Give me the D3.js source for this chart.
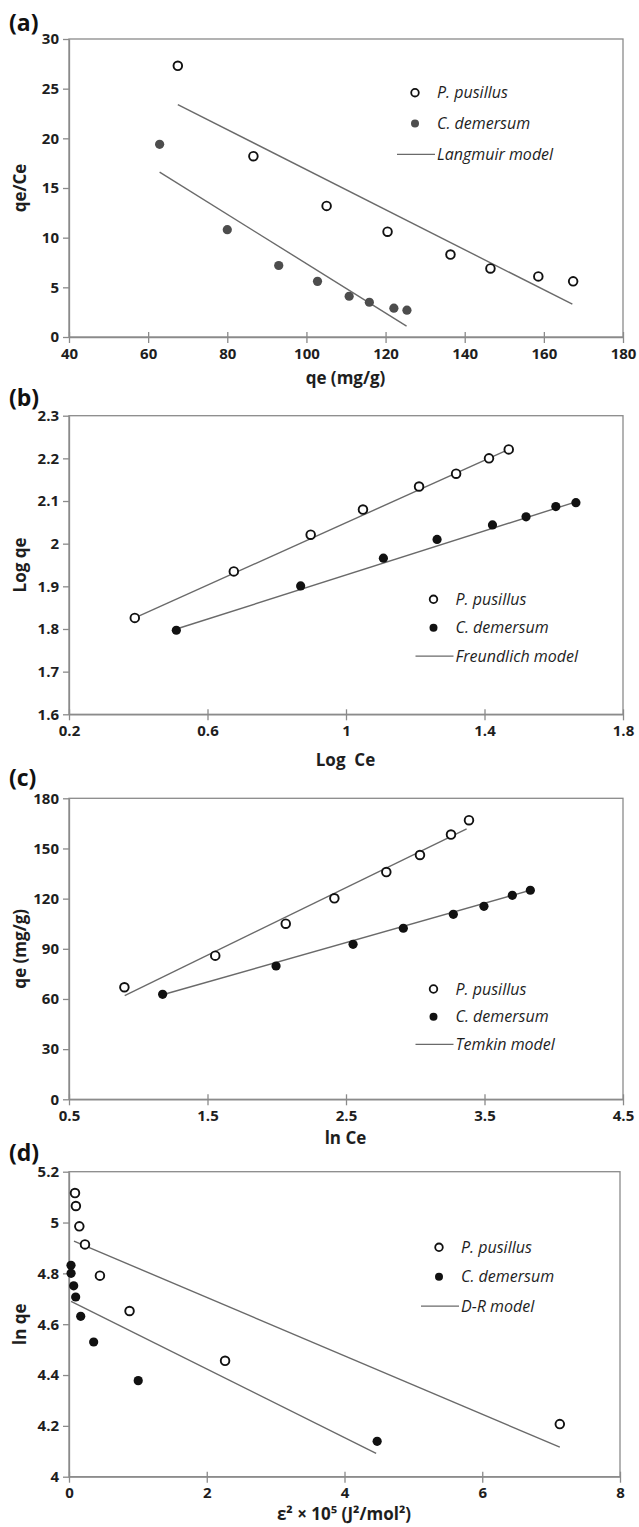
<!DOCTYPE html>
<html>
<head>
<meta charset="utf-8">
<script src="https://cdn.jsdelivr.net/npm/d3@7"></script>
<style>
  body { margin: 0; background: #fff; }
  svg text { font-family: "Open Sans", Lato, sans-serif; }
</style>
</head>
<body>
<div id="chart"></div>
<script>
// ---- data ----
const seriesNames = ["P. pusillus", "C. demersum"];

// (a) Langmuir
const aPusX = [67.5, 86.6, 105.1, 120.5, 136.4, 146.5, 158.6, 167.4];
const aPusY = [27.3, 18.2, 13.2, 10.6, 8.3, 6.9, 6.1, 5.6];
const aDemX = [62.9, 80.0, 93.0, 102.8, 110.8, 115.9, 122.1, 125.4];
const aDemY = [19.4, 10.8, 7.2, 5.6, 4.1, 3.5, 2.9, 2.7];
const aPusFit = [[67.5, 23.4], [167.2, 3.3]];
const aDemFit = [[62.9, 16.6], [125.3, 1.1]];
const aXTicks = [40, 60, 80, 100, 120, 140, 160, 180];
const aYTicks = [0, 5, 10, 15, 20, 25, 30];

// (b) Freundlich
const bPusX = [0.39, 0.676, 0.898, 1.049, 1.211, 1.318, 1.413, 1.470];
const bPusY = [1.826, 1.935, 2.021, 2.080, 2.134, 2.164, 2.200, 2.221];
const bDemX = [0.510, 0.869, 1.108, 1.263, 1.423, 1.520, 1.606, 1.664];
const bDemY = [1.797, 1.901, 1.966, 2.010, 2.044, 2.063, 2.087, 2.096];
const bPusFit = [[0.39, 1.826], [1.47, 2.221]];
const bDemFit = [[0.51, 1.800], [1.664, 2.098]];
const bXTicks = [0.2, 0.6, 1, 1.4, 1.8];
const bYTicks = [1.6, 1.7, 1.8, 1.9, 2, 2.1, 2.2, 2.3];

// (c) Temkin
const cPusX = [0.90, 1.556, 2.065, 2.416, 2.791, 3.034, 3.258, 3.388];
const cPusY = [67.0, 85.9, 105.0, 120.2, 135.9, 146.1, 158.3, 166.9];
const cDemX = [1.176, 1.995, 2.551, 2.914, 3.275, 3.496, 3.701, 3.831];
const cDemY = [62.8, 79.7, 92.7, 102.3, 110.6, 115.4, 122.0, 125.0];
const cPusFit = [[0.902, 62.0], [3.371, 161.7]];
const cDemFit = [[1.176, 62.5], [3.831, 125.0]];
const cXTicks = [0.5, 1.5, 2.5, 3.5, 4.5];
const cYTicks = [0, 30, 60, 90, 120, 150, 180];

// (d) D-R
const dPusX = [0.087, 0.10, 0.15, 0.232, 0.449, 0.879, 2.266, 7.126];
const dPusY = [5.116, 5.065, 4.985, 4.914, 4.791, 4.652, 4.456, 4.207];
const dDemX = [0.029, 0.03, 0.068, 0.097, 0.17, 0.358, 1.005, 4.474];
const dDemY = [4.832, 4.800, 4.751, 4.707, 4.631, 4.530, 4.378, 4.139];
const dPusFit = [[0.072, 4.927], [7.126, 4.116]];
const dDemFit = [[0.03, 4.690], [4.459, 4.092]];
const dXTicks = [0, 2, 4, 6, 8];
const dYTicks = [4, 4.2, 4.4, 4.6, 4.8, 5, 5.2];

const zip = (xs, ys) => xs.map((x, i) => [x, ys[i]]);

const panels = [
  { tag: "(a)", tagY: 31, top: 39, h: 298, w: 554,
    xt: aXTicks, yt: aYTicks, xl: "qe (mg/g)", xlY: 378, yl: "qe/Ce",
    pus: zip(aPusX, aPusY), dem: zip(aDemX, aDemY), pusFit: aPusFit, demFit: aDemFit,
    demColor: "#4d4d4d", model: "Langmuir model", leg: { x: 415, y: 92.7, gap: 30.8 } },
  { tag: "(b)", tagY: 406, top: 415.7, h: 298.6, w: 554,
    xt: bXTicks, yt: bYTicks, xl: "Log  Ce", xlY: 760, yl: "Log qe",
    pus: zip(bPusX, bPusY), dem: zip(bDemX, bDemY), pusFit: bPusFit, demFit: bDemFit,
    demColor: "#111", model: "Freundlich model", leg: { x: 433.5, y: 599.3, gap: 28.4 } },
  { tag: "(c)", tagY: 786, top: 798.3, h: 301, w: 554,
    xt: cXTicks, yt: cYTicks, xl: "ln Ce", xlY: 1138, yl: "qe (mg/g)",
    pus: zip(cPusX, cPusY), dem: zip(cDemX, cDemY), pusFit: cPusFit, demFit: cDemFit,
    demColor: "#111", model: "Temkin model", leg: { x: 433.5, y: 989, gap: 27.7 } },
  { tag: "(d)", tagY: 1161, top: 1171.7, h: 305, w: 551,
    xt: dXTicks, yt: dYTicks, xl: "ε² × 10⁵ (J²/mol²)", xlY: 1514, yl: "ln qe",
    pus: zip(dPusX, dPusY), dem: zip(dDemX, dDemY), pusFit: dPusFit, demFit: dDemFit,
    demColor: "#111", model: "D-R model", leg: { x: 439, y: 1247.3, gap: 29.4 } }
];

const left = 69;
const axisColor = "#8a8a8a";
const fitColor = "#6a6a6a";
const textColor = "#1e1e1e";

const svg = d3.select("#chart")
  .append("svg")
    .attr("width", 639)
    .attr("height", 1527);

panels.forEach(p => {
  const x = d3.scaleLinear()
    .domain(d3.extent(p.xt))
    .range([left, left + p.w]);
  const y = d3.scaleLinear()
    .domain(d3.extent(p.yt))
    .range([p.top + p.h, p.top]);

  const g = svg.append("g");

  // frame
  g.append("rect")
    .attr("x", left).attr("y", p.top)
    .attr("width", p.w).attr("height", p.h)
    .attr("fill", "none")
    .attr("stroke", axisColor)
    .attr("stroke-width", 1.3);

  const xAxis = g.append("g")
    .attr("transform", "translate(0," + (p.top + p.h) + ")")
    .call(d3.axisBottom(x).tickValues(p.xt).tickFormat(d3.format("~g"))
      .tickSizeInner(6).tickSizeOuter(0).tickPadding(5));
  xAxis.selectAll(".tick line").attr("y1", -5);

  const yAxis = g.append("g")
    .attr("transform", "translate(" + left + ",0)")
    .call(d3.axisLeft(y).tickValues(p.yt).tickFormat(d3.format("~g"))
      .tickSizeInner(6).tickSizeOuter(0).tickPadding(4));

  [xAxis, yAxis].forEach(a => {
    a.select(".domain").attr("stroke", axisColor).attr("stroke-width", 1.3);
    a.selectAll(".tick line").attr("stroke", axisColor).attr("stroke-width", 1.3);
    a.selectAll(".tick text")
      .attr("fill", textColor)
      .style("font-size", "15px")
      .style("font-weight", "bold");
  });

  // fitted model lines
  const line = d3.line().x(d => x(d[0])).y(d => y(d[1]));
  [p.pusFit, p.demFit].forEach(f => {
    g.append("path")
      .attr("d", line(f))
      .attr("fill", "none")
      .attr("stroke", fitColor)
      .attr("stroke-width", 1.4);
  });

  // points
  g.selectAll(".dem").data(p.dem).join("circle")
    .attr("cx", d => x(d[0])).attr("cy", d => y(d[1]))
    .attr("r", 4.6)
    .attr("fill", p.demColor);
  g.selectAll(".pus").data(p.pus).join("circle")
    .attr("cx", d => x(d[0])).attr("cy", d => y(d[1]))
    .attr("r", 4.3)
    .attr("fill", "#fff")
    .attr("stroke", "#111")
    .attr("stroke-width", 1.9);

  // panel tag
  g.append("text")
    .attr("x", 9).attr("y", p.tagY)
    .attr("fill", "#111")
    .style("font-size", "23px").style("font-weight", "bold")
    .text(p.tag);

  // axis titles
  g.append("text")
    .attr("x", left + p.w / 2 - 0.5).attr("y", p.xlY)
    .attr("dy", "0.35em")
    .attr("text-anchor", "middle")
    .attr("fill", textColor)
    .style("font-size", "17px").style("font-weight", "bold")
    .style("white-space", "pre")
    .text(p.xl);
  g.append("text")
    .attr("transform", "translate(20," + (p.top + p.h / 2) + ") rotate(-90)")
    .attr("dy", "0.35em")
    .attr("text-anchor", "middle")
    .attr("fill", textColor)
    .style("font-size", "17px").style("font-weight", "bold")
    .text(p.yl);

  // legend
  const L = p.leg;
  const lg = g.append("g");
  lg.append("circle")
    .attr("cx", L.x).attr("cy", L.y).attr("r", 3.8)
    .attr("fill", "#fff").attr("stroke", "#111").attr("stroke-width", 1.8);
  lg.append("circle")
    .attr("cx", L.x).attr("cy", L.y + L.gap).attr("r", 4)
    .attr("fill", p.demColor);
  lg.append("line")
    .attr("x1", L.x - 18).attr("x2", L.x + 20)
    .attr("y1", L.y + 2 * L.gap).attr("y2", L.y + 2 * L.gap)
    .attr("stroke", fitColor).attr("stroke-width", 1.3);
  [seriesNames[0], seriesNames[1], p.model].forEach((t, i) => {
    lg.append("text")
      .attr("x", L.x + 22).attr("y", L.y + i * L.gap)
      .attr("dy", "0.35em")
      .attr("fill", textColor)
      .style("font-size", "16px").style("font-style", "italic")
      .text(t);
  });
});
</script>
</body>
</html>
